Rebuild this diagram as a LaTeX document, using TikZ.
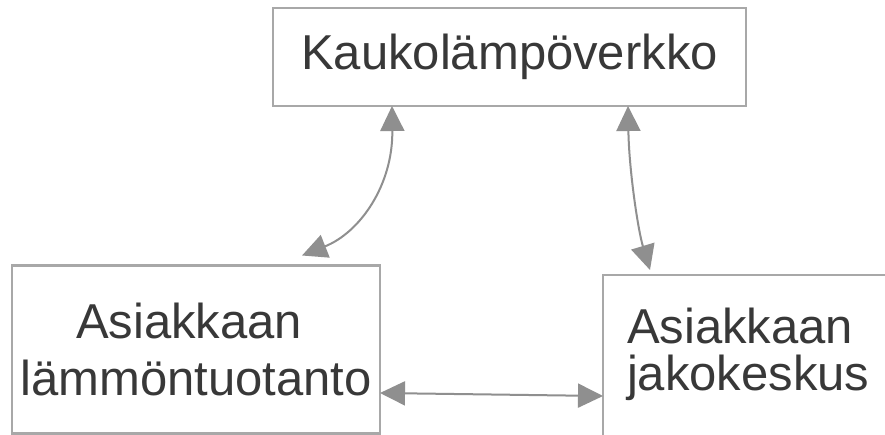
\documentclass[tikz,border=0pt]{standalone}
\usepackage{fontspec}
\usepackage{tikz}
\usetikzlibrary{arrows.meta}
\newfontfamily\boxfont{Liberation Sans}
\definecolor{boxgray}{HTML}{A8A8A8}
\definecolor{linkgray}{HTML}{8F8F8F}
\definecolor{textgray}{HTML}{383838}
\tikzset{
  box/.style={draw=boxgray, line width=2.5pt, inner sep=0pt, outer sep=0pt,
    text=textgray},
  link/.style={draw=linkgray, line width=2pt,
    {Triangle[length=25pt,width=24pt]}-{Triangle[length=25pt,width=24pt]},
    linkgray}
}

\begin{document}
\begin{tikzpicture}[x=1pt,y=-1pt]
        \clip (0,0) rectangle (885,435);
        \fill[white] (0,0) rectangle (885,435);
        % boxes
        \node[box, minimum width=473pt, minimum height=98pt,
              font={\boxfont\fontsize{49}{57}\selectfont}]
            (verkko) at (509.5,57) {Kaukolämpöverkko};
        \node[box, minimum width=368pt, minimum height=168pt, align=center,
              font={\boxfont\fontsize{49}{57}\selectfont}]
            (tuotanto) at (196,349.5) {Asiakkaan\hspace*{0.278em}\\lämmöntuotanto};
        \node[box, anchor=north west, inner xsep=24pt, inner ysep=32pt,
              text width=252pt, text height=36pt, text depth=150pt, align=left,
              font={\boxfont\fontsize{49}{47}\selectfont}]
            (jako) at (603,275) {Asiakkaan\\jakokeskus};
        % connectors
        \draw[link] ([xshift=119pt]verkko.south west)
            .. controls +(1,79) and +(58,-23) ..
            ([xshift=290pt,yshift=10pt]tuotanto.north west);
        \draw[link] ([xshift=355pt]verkko.south west)
            .. controls +(1,64) and +(-12,-40) ..
            ([xshift=47pt,yshift=5pt]jako.north west);
        \draw[link] ([yshift=40.5pt]tuotanto.south east)
            -- ([yshift=-121pt]jako.north west);
\end{tikzpicture}
\end{document}
